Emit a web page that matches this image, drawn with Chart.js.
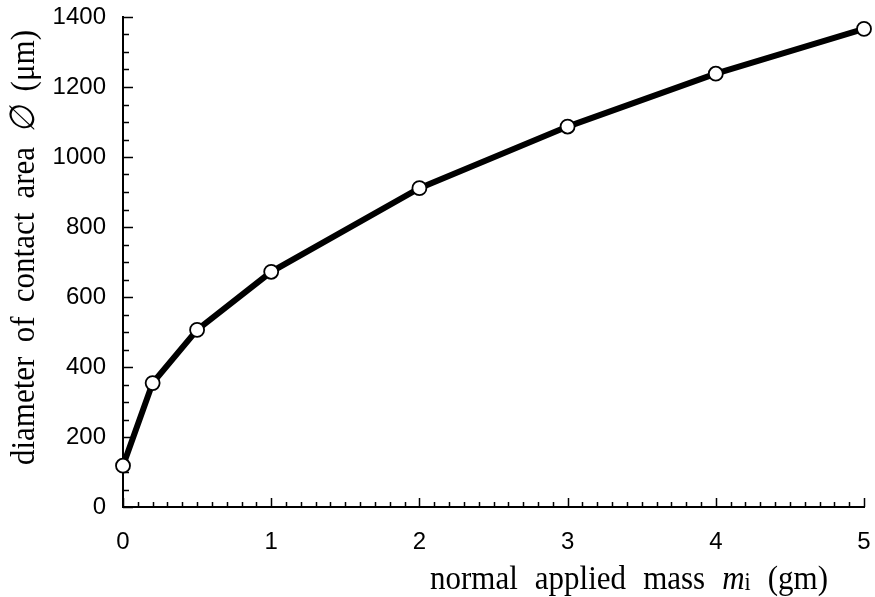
<!DOCTYPE html>
<html>
<head>
<meta charset="utf-8">
<script src="https://cdn.jsdelivr.net/npm/chart.js@4.4.1/dist/chart.umd.min.js"></script>
<style>
  html, body { margin: 0; padding: 0; background: #fff; }
  #wrap { width: 875px; height: 597px; position: relative; }
</style>
</head>
<body>
<div id="wrap"><canvas id="c"></canvas></div>
<script>
// data
var massGm = [0, 0.2, 0.5, 1, 2, 3, 4, 5];
var diameterUm = [118, 354, 506, 672, 911, 1087, 1238, 1366];
var xTickValues = [0, 1, 2, 3, 4, 5];
var yTickValues = [0, 200, 400, 600, 800, 1000, 1200, 1400];

var points = [];
massGm.forEach(function(m, i) {
  points.push({ x: m, y: diameterUm[i] });
});

// inward tick marks (major + minor), drawn through the scales
var innerTicks = {
  id: 'innerTicks',
  beforeDatasetsDraw: function(chart) {
    var ctx = chart.ctx;
    var xs = chart.scales.x, ys = chart.scales.y;
    var area = chart.chartArea;
    ctx.save();
    ctx.strokeStyle = '#000';
    ctx.lineWidth = 1.5;
    ctx.beginPath();
    for (var i = 0; i <= 50; i++) {
      var px = Math.round(xs.getPixelForValue(i / 10)) + 0.5;
      var len = (i % 10 === 0) ? 9 : 5;
      ctx.moveTo(px, area.bottom);
      ctx.lineTo(px, area.bottom - len);
    }
    for (var j = 0; j <= 28; j++) {
      var py = Math.round(ys.getPixelForValue(j * 50)) + 0.5;
      var ylen = (j % 4 === 0) ? 10 : 6;
      ctx.moveTo(area.left, py);
      ctx.lineTo(area.left + ylen, py);
    }
    ctx.stroke();
    ctx.restore();
  }
};

// draws words spread evenly from start to end along the text direction
function spreadWords(ctx, words, start, end) {
  var total = 0;
  words.forEach(function(w) {
    w.w = 0;
    w.parts.forEach(function(p) { ctx.font = p.f; p.w = ctx.measureText(p.t).width; w.w += p.w; });
    total += w.w;
  });
  var gap = (end - start - total) / (words.length - 1);
  var x = start;
  words.forEach(function(w) {
    w.parts.forEach(function(p) {
      ctx.font = p.f;
      ctx.fillText(p.t, x, p.dy || 0);
      x += p.w;
    });
    x += gap;
  });
}

var axisTitles = {
  id: 'axisTitles',
  afterDraw: function(chart) {
    var ctx = chart.ctx;
    var serif = '"Liberation Serif", "Times New Roman", serif';
    var size = 31;
    var plain = size + 'px ' + serif;
    ctx.save();
    ctx.fillStyle = '#000';
    ctx.textBaseline = 'alphabetic';

    ctx.save();
    ctx.translate(0, 589);
    ctx.scale(1, 1.12);
    spreadWords(ctx, [
      { parts: [{ t: 'normal', f: plain }] },
      { parts: [{ t: 'applied', f: plain }] },
      { parts: [{ t: 'mass', f: plain }] },
      { parts: [{ t: 'm', f: 'italic ' + plain }, { t: 'i', f: '22px ' + serif, dy: 1 }] },
      { parts: [{ t: '(gm)', f: plain }] }
    ], 430, 828);
    ctx.restore();

    ctx.save();
    ctx.translate(34, 0);
    ctx.rotate(-Math.PI / 2);
    ctx.scale(1, 1.12);
    spreadWords(ctx, [
      { parts: [{ t: 'diameter', f: plain }] },
      { parts: [{ t: 'of', f: plain }] },
      { parts: [{ t: 'contact', f: plain }] },
      { parts: [{ t: 'area', f: plain }] },
      { parts: [{ t: '\u2205', f: 'italic ' + plain }] },
      { parts: [{ t: '(\u03bcm)', f: plain }] }
    ], -465, -30);
    ctx.restore();

    ctx.restore();
  }
};

function noScalePadding(scale) {
  scale.paddingLeft = 0;
  scale.paddingRight = 0;
  scale.paddingTop = 0;
  scale.paddingBottom = 0;
}

new Chart(document.getElementById('c'), {
  type: 'scatter',
  data: {
    datasets: [{
      label: 'diameter',
      data: points,
      showLine: true,
      clip: false,
      borderColor: '#000',
      borderWidth: 6,
      pointRadius: 7,
      pointBorderWidth: 1.8,
      pointBackgroundColor: '#fff',
      pointBorderColor: '#000',
      tension: 0
    }]
  },
  plugins: [innerTicks, axisTitles],
  options: {
    responsive: true,
    maintainAspectRatio: false,
    animation: false,
    layout: { autoPadding: false, padding: { top: 17, right: 11, left: 0, bottom: 0 } },
    plugins: {
      legend: { display: false },
      tooltip: { enabled: false }
    },
    scales: {
      x: {
        type: 'linear',
        min: 0,
        max: 5,
        afterBuildTicks: function(scale) {
          scale.ticks = xTickValues.map(function(v) { return { value: v }; });
        },
        afterFit: function(scale) { scale.height = 90; noScalePadding(scale); },
        grid: { display: false, drawTicks: false },
        border: { display: true, color: '#000', width: 2 },
        ticks: {
          color: '#000',
          padding: 21,
          maxRotation: 0,
          font: { family: '"Liberation Sans", Arial, sans-serif', size: 24 },
          callback: function(v) { return String(v); }
        }
      },
      y: {
        type: 'linear',
        min: 0,
        max: 1400,
        afterBuildTicks: function(scale) {
          scale.ticks = yTickValues.map(function(v) { return { value: v }; });
        },
        afterFit: function(scale) { scale.width = 123; noScalePadding(scale); },
        grid: { display: false, drawTicks: false },
        border: { display: true, color: '#000', width: 2 },
        ticks: {
          color: '#000',
          padding: 17,
          font: { family: '"Liberation Sans", Arial, sans-serif', size: 24 },
          callback: function(v) { return String(v); }
        }
      }
    }
  }
});
</script>
</body>
</html>
